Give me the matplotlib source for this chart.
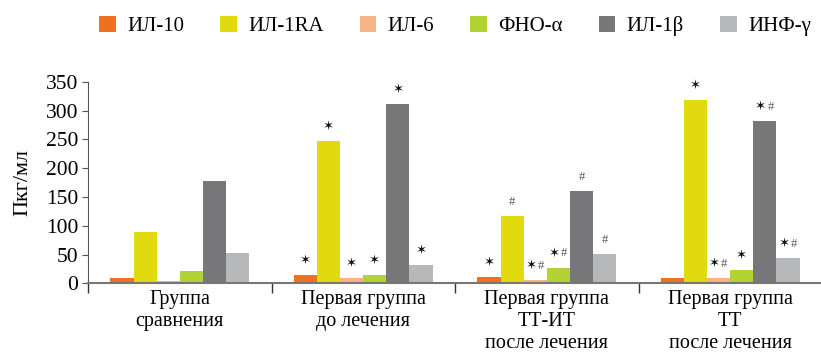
import matplotlib
matplotlib.use('Agg')
import matplotlib.pyplot as plt
import numpy as np

plt.rcParams['font.family'] = ['Liberation Serif', 'DejaVu Serif', 'DejaVu Sans']

groups = ['Группа\nсравнения', 'Первая группа\nдо лечения',
          'Первая группа\nТТ-ИТ\nпосле лечения', 'Первая группа\nТТ\nпосле лечения']
series = ['ИЛ-10', 'ИЛ-1RA', 'ИЛ-6', 'ФНО-α', 'ИЛ-1β', 'ИНФ-γ']
colors = ['#F07021', '#E0DA0F', '#F8B283', '#B3D335', '#77777A', '#B7B8BA']

il10 = [10, 15, 11, 9]
il1ra = [89, 247, 117, 318]
il6 = [4, 9, 6, 9]
tnf = [21, 15, 27, 23]
il1b = [177, 311, 160, 281]
inf = [53, 32, 51, 44]
values = [il10, il1ra, il6, tnf, il1b, inf]

# significance marks per series, per group
marks_il10 = ['', '*', '*', '']
marks_il1ra = ['', '*', '#', '*']
marks_il6 = ['', '*', '*#', '*#']
marks_tnf = ['', '*', '*#', '*']
marks_il1b = ['', '*', '#', '*#']
marks_inf = ['', '*', '#', '*#']
marks = [marks_il10, marks_il1ra, marks_il6, marks_tnf, marks_il1b, marks_inf]

fig = plt.figure(figsize=(8.21, 3.57), dpi=100)
ax = fig.add_axes([88 / 821, 73.7 / 357, 734 / 821, 201.6 / 357])


def star(p, v, dx):
    ax.annotate('✶', (p, v), xytext=(dx, 6), textcoords='offset points',
                ha='center', va='bottom', fontsize=9.5, color='#111',
                family='DejaVu Sans')


def hash_mark(p, v, dx):
    ax.annotate('#', (p, v), xytext=(dx, 6), textcoords='offset points',
                ha='center', va='bottom', fontsize=9, color='#555')


x = np.arange(len(groups))
w = 0.126
for i, (name, vals, c) in enumerate(zip(series, values, colors)):
    pos = x + (i - 2.5) * w
    ax.bar(pos, vals, width=w, color=c, label=name, linewidth=0)
    for p, v, m in zip(pos, vals, marks[i]):
        if m == '*':
            star(p, v, 0)
        elif m == '#':
            hash_mark(p, v, 0)
        elif m == '*#':
            star(p, v, -3)
            hash_mark(p, v, 4)

ax.set_xlim(-0.5, 3.5)
ax.set_ylim(0, 350)
ax.set_yticks(range(0, 351, 50))
ax.tick_params(axis='y', labelsize=15.5, length=4, color='#555', pad=3)

ax.set_xticks(np.arange(-0.5, 3.6, 1))
ax.set_xticklabels([])
ax.tick_params(axis='x', which='major', length=7, color='#333', width=1)
ax.set_xticks(x, minor=True)
ax.set_xticklabels(groups, minor=True, fontsize=14.5, linespacing=1.2)
ax.tick_params(axis='x', which='minor', length=0, pad=5)

for s in ['top', 'right']:
    ax.spines[s].set_visible(False)
ax.spines['bottom'].set_color('#777')
ax.spines['bottom'].set_linewidth(1.5)
ax.spines['left'].set_color('#555')

ax.set_ylabel('Пкг/мл', fontsize=16, labelpad=10)

ax.legend(loc='center', bbox_to_anchor=(0.5, 1.275), ncol=6, frameon=False,
          fontsize=15, handlelength=0.8, handleheight=0.8, columnspacing=1.72,
          handletextpad=0.55, borderpad=0)

fig.savefig('out.png', dpi=100)
